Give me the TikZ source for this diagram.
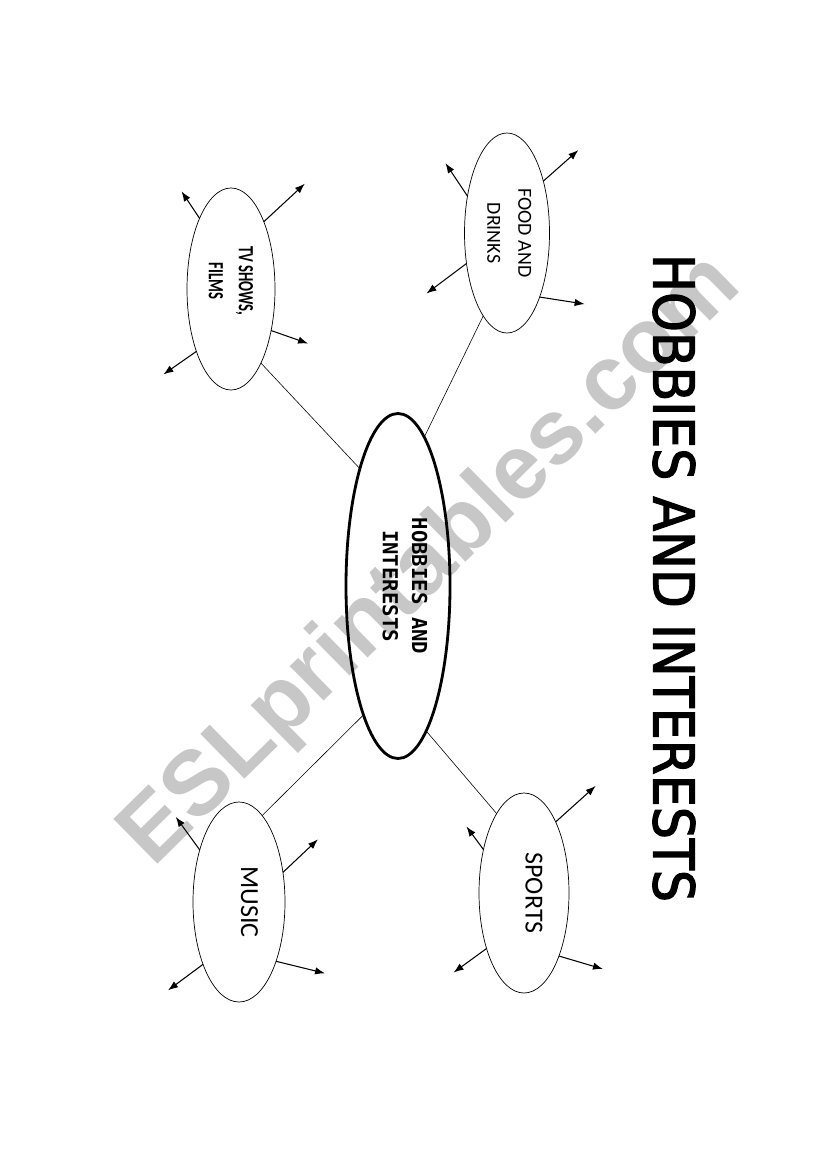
\documentclass[tikz,border=0pt]{standalone}
\usepackage{fontspec}
\setmainfont{Carlito}
\newfontfamily\tvfont[FakeStretch=0.68]{Carlito}
\newfontfamily\monofont{DejaVu Sans Mono}
\newfontfamily\titlefont[FakeStretch=0.9,FakeBold=2.2]{DejaVu Sans}
\newfontfamily\markfont{Liberation Sans}
\usetikzlibrary{shapes.geometric,arrows.meta}

\begin{document}
\begin{tikzpicture}[x=0.3mm,y=-0.3mm,
        bubble/.style={draw,ellipse,inner sep=0pt,outer sep=0pt,line width=0.6pt,minimum height=60mm},
        link/.style={line width=0.5pt},
        ray/.style={-{Latex[length=3mm,width=2.2mm]},line width=0.9pt},
        caption/.style={rotate=-90,align=center}]
    \useasboundingbox (0,0) rectangle (826,1169);
    %% watermark
    \node[rotate=44.5,text=black!22,font=\markfont\bfseries\fontsize{78}{78}\selectfont] (mark) at (432,562) {ESLprintables.com};
    %% title
    \node[caption,font=\titlefont\fontsize{48}{48}\selectfont] (title) at (674,578) {HOBBIES AND INTERESTS};
    %% centre bubble
    \node[bubble,line width=2.4pt,minimum width=31.2mm,minimum height=103.5mm] (hobbies) at (398,586) {};
    \node[caption,font=\monofont\bfseries\fontsize{17.6}{25}\selectfont] (hobbiestext) at ([xshift=6pt]hobbies.center) {HOBBIES AND\\INTERESTS};
    %% outer bubbles
    \node[bubble,minimum width=26.4mm,minimum height=60.6mm] (tv) at (231,289) {};
    \node[caption,font=\tvfont\bfseries\fontsize{18.5}{25.6}\selectfont] (tvtext) at ([yshift=7pt]tv.center) {TV SHOWS,\\FILMS};
    \node[bubble,minimum width=25.5mm] (food) at (507,233) {};
    \node[caption,font=\fontsize{17}{26.5}\selectfont] (foodtext) at ([xshift=2pt]food.center) {FOOD AND\\DRINKS};
    \node[bubble,minimum width=27.6mm] (music) at (239,902) {};
    \node[caption,font=\fontsize{22.2}{26}\selectfont] (musictext) at ([xshift=9pt]music.center) {MUSIC};
    \node[bubble,minimum width=27mm] (sports) at (524,893) {};
    \node[caption,font=\fontsize{22.2}{26}\selectfont] (sportstext) at ([xshift=8.5pt]sports.center) {SPORTS};
    %% links to the centre
    \draw[link] (hobbies.108.7) -- (tv.292.5);
    \draw[link] (hobbies.80.7) -- (food.254.6);
    \draw[link] (hobbies.255.4) -- (music.75.7);
    \draw[link] (hobbies.281) -- (sports.109.9);
    %% arrows out of each bubble
    \draw[ray] (tv.114) -- ++(-18,-27);
    \draw[ray] (tv.64.4) -- ++(41,-38);
    \draw[ray] (tv.314) -- ++(37,13);
    \draw[ray] (tv.241.3) -- ++(-33,23);
    \draw[ray] (food.137.2) -- ++(-22,-33);
    \draw[ray] (food.55.7) -- ++(35,-31);
    \draw[ray] (food.217.1) -- ++(-40,30);
    \draw[ray] (food.297.9) -- ++(45,7);
    \draw[ray] (music.127.6) -- ++(-24,-33);
    \draw[ray] (music.34.3) -- ++(35,-33);
    \draw[ray] (music.240.6) -- ++(-35,26);
    \draw[ray] (music.302.6) -- ++(49,12);
    \draw[ray] (sports.133.6) -- ++(-17,-23);
    \draw[ray] (sports.66) -- ++(40,-36);
    \draw[ray] (sports.236.8) -- ++(-33,24);
    \draw[ray] (sports.299.1) -- ++(44,13);
\end{tikzpicture}
\end{document}
